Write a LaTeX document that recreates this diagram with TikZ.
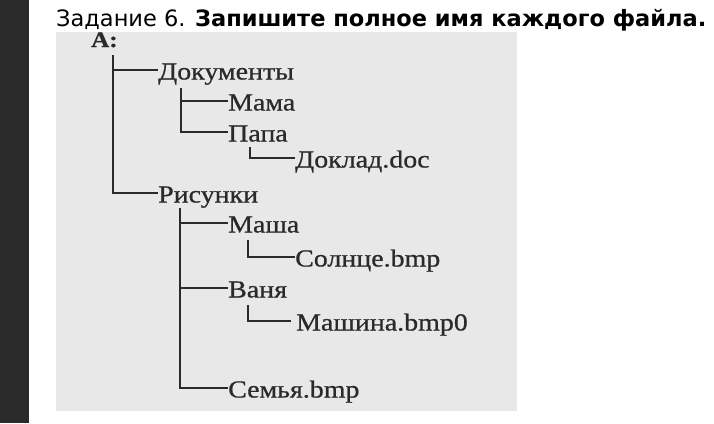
\documentclass[tikz,border=0pt]{standalone}
\usepackage{fontspec}
\setmainfont{Liberation Serif}
\newfontfamily\treefont[FakeStretch=1.14,FakeBold=0.8]{Liberation Serif}
\newfontfamily\titlefont{DejaVu Sans}
\definecolor{barcol}{HTML}{2B2B2B}
\definecolor{boxcol}{HTML}{E8E8E8}
\definecolor{inkcol}{HTML}{2A2A2A}
\begin{document}
\begin{tikzpicture}[x=1pt,y=-1pt,
  item/.style={anchor=west,inner sep=0pt,text=inkcol,font=\treefont\fontsize{24.5}{24.5}\selectfont,text height=20pt,text depth=1pt},
  link/.style={draw=inkcol,line width=1.8pt}]
\useasboundingbox (0,0) rectangle (714,423);
\fill[white] (0,0) rectangle (714,423);
\fill[barcol] (0,0) rectangle (29,423);
\fill[boxcol] (56,32) rectangle (517,411);
% title
\node[anchor=base west,inner sep=0pt,font=\titlefont\fontsize{22.5}{22.5}\selectfont] (title) at (56,26)
  {Задание 6. \textbf{Запишите полное имя каждого файла.}};
% tree
\node[anchor=base west,inner sep=0pt,text=inkcol,font=\treefont\fontsize{22}{22}\selectfont\bfseries] (root) at (91,47) {A:};
\node[item] (doc) at (158,70) {Документы};
\node[item] (mama) at (228,101) {Мама};
\node[item] (papa) at (228,132) {Папа};
\node[item] (doklad) at (295,158) {Доклад.doc};
\node[item] (ris) at (158,193) {Рисунки};
\node[item] (masha) at (228,223) {Маша};
\node[item] (solnce) at (295,257) {Солнце.bmp};
\node[item] (vanya) at (228,288) {Ваня};
\node[item,inner xsep=5pt] (mashina) at (291,321) {Машина.bmp0};
\node[item] (semya) at (228,388) {Семья.bmp};
% connector starts
\coordinate (r0) at (113,55);
\coordinate (d0) at (181,88);
\coordinate (p0) at (250,147);
\coordinate (s0) at (180,208);
\coordinate (m0) at (248,240);
\coordinate (v0) at (248,305);
\draw[link] (r0) |- (doc.west);
\draw[link] (r0) |- (ris.west);
\draw[link] (d0) |- (mama.west);
\draw[link] (d0) |- (papa.west);
\draw[link] (p0) |- (doklad.west);
\draw[link] (s0) |- (masha.west);
\draw[link] (s0) |- (vanya.west);
\draw[link] (s0) |- (semya.west);
\draw[link] (m0) |- (solnce.west);
\draw[link] (v0) |- (mashina.west);
\end{tikzpicture}
\end{document}
